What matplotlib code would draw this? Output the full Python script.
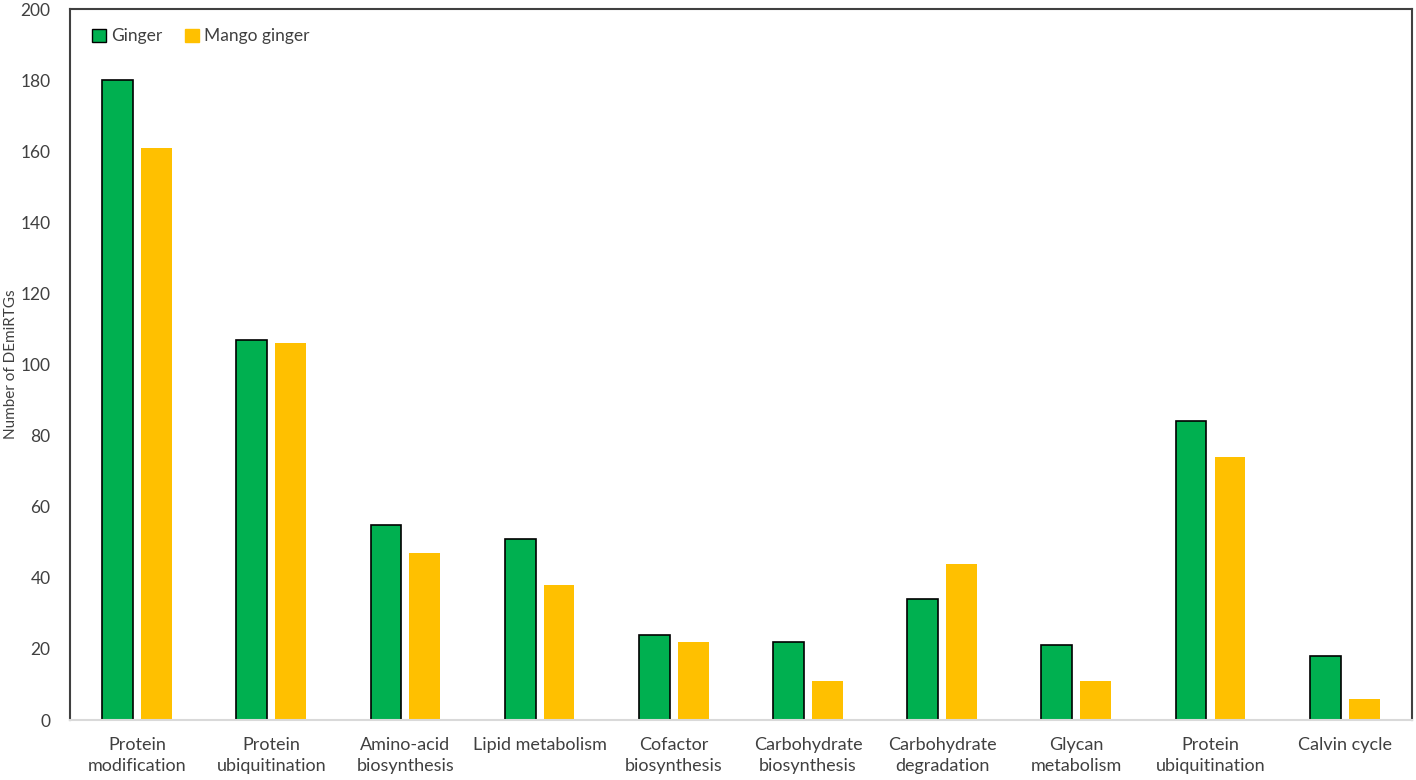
import matplotlib.pyplot as plt
import numpy as np
from matplotlib.patches import Patch

categories = ["Protein\nmodification", "Protein\nubiquitination", "Amino-acid\nbiosynthesis",
              "Lipid metabolism", "Cofactor\nbiosynthesis", "Carbohydrate\nbiosynthesis",
              "Carbohydrate\ndegradation", "Glycan\nmetabolism", "Protein\nubiquitination",
              "Calvin cycle"]
ginger = [180, 107, 55, 51, 24, 22, 34, 21, 84, 18]
mango_ginger = [161, 106, 47, 38, 22, 11, 44, 11, 74, 6]

green = "#00B050"
yellow = "#FFC000"
text_color = "#404040"

plt.rcParams['font.family'] = ['Lato', 'DejaVu Sans']

fig = plt.figure(figsize=(14.16, 7.8), dpi=100)
ax = fig.add_axes([0.0494, 0.0769, 0.9476, 0.9115])

x = np.arange(len(categories))
w = 0.23
ax.bar(x - 0.145, ginger, w, color=green, edgecolor="black", linewidth=1.2)
ax.bar(x + 0.145, mango_ginger, w, color=yellow, linewidth=0)

ax.set_xlim(-0.5, len(categories) - 0.5)
ax.set_ylim(0, 200)
ax.set_yticks(np.arange(0, 201, 20))
ax.set_xticks(x)
ax.set_xticklabels(categories, fontsize=13, color=text_color, linespacing=1.4)
ax.tick_params(axis="y", labelsize=12.5, labelcolor=text_color, length=0, pad=14)
ax.tick_params(axis="x", length=0, pad=12)
ax.set_ylabel("Number of DEmiRTGs", fontsize=11, color=text_color)
ax.yaxis.set_label_coords(-0.039, 0.5)

for side in ["left", "top", "right"]:
    ax.spines[side].set_color("#404040")
    ax.spines[side].set_linewidth(1.5)
ax.spines["bottom"].set_color("#d9d9d9")
ax.spines["bottom"].set_linewidth(1.5)

handles = [Patch(facecolor=green, edgecolor="black", linewidth=1.0),
           Patch(facecolor=yellow, edgecolor=yellow)]
leg = ax.legend(handles, ["Ginger", "Mango ginger"], loc="upper left", ncol=2,
                frameon=False, fontsize=12.5, handlelength=0.8, handleheight=0.8,
                handletextpad=0.3, columnspacing=1.3, bbox_to_anchor=(0.005, 0.995))
for t in leg.get_texts():
    t.set_color(text_color)

fig.savefig("out.png", dpi=100)
